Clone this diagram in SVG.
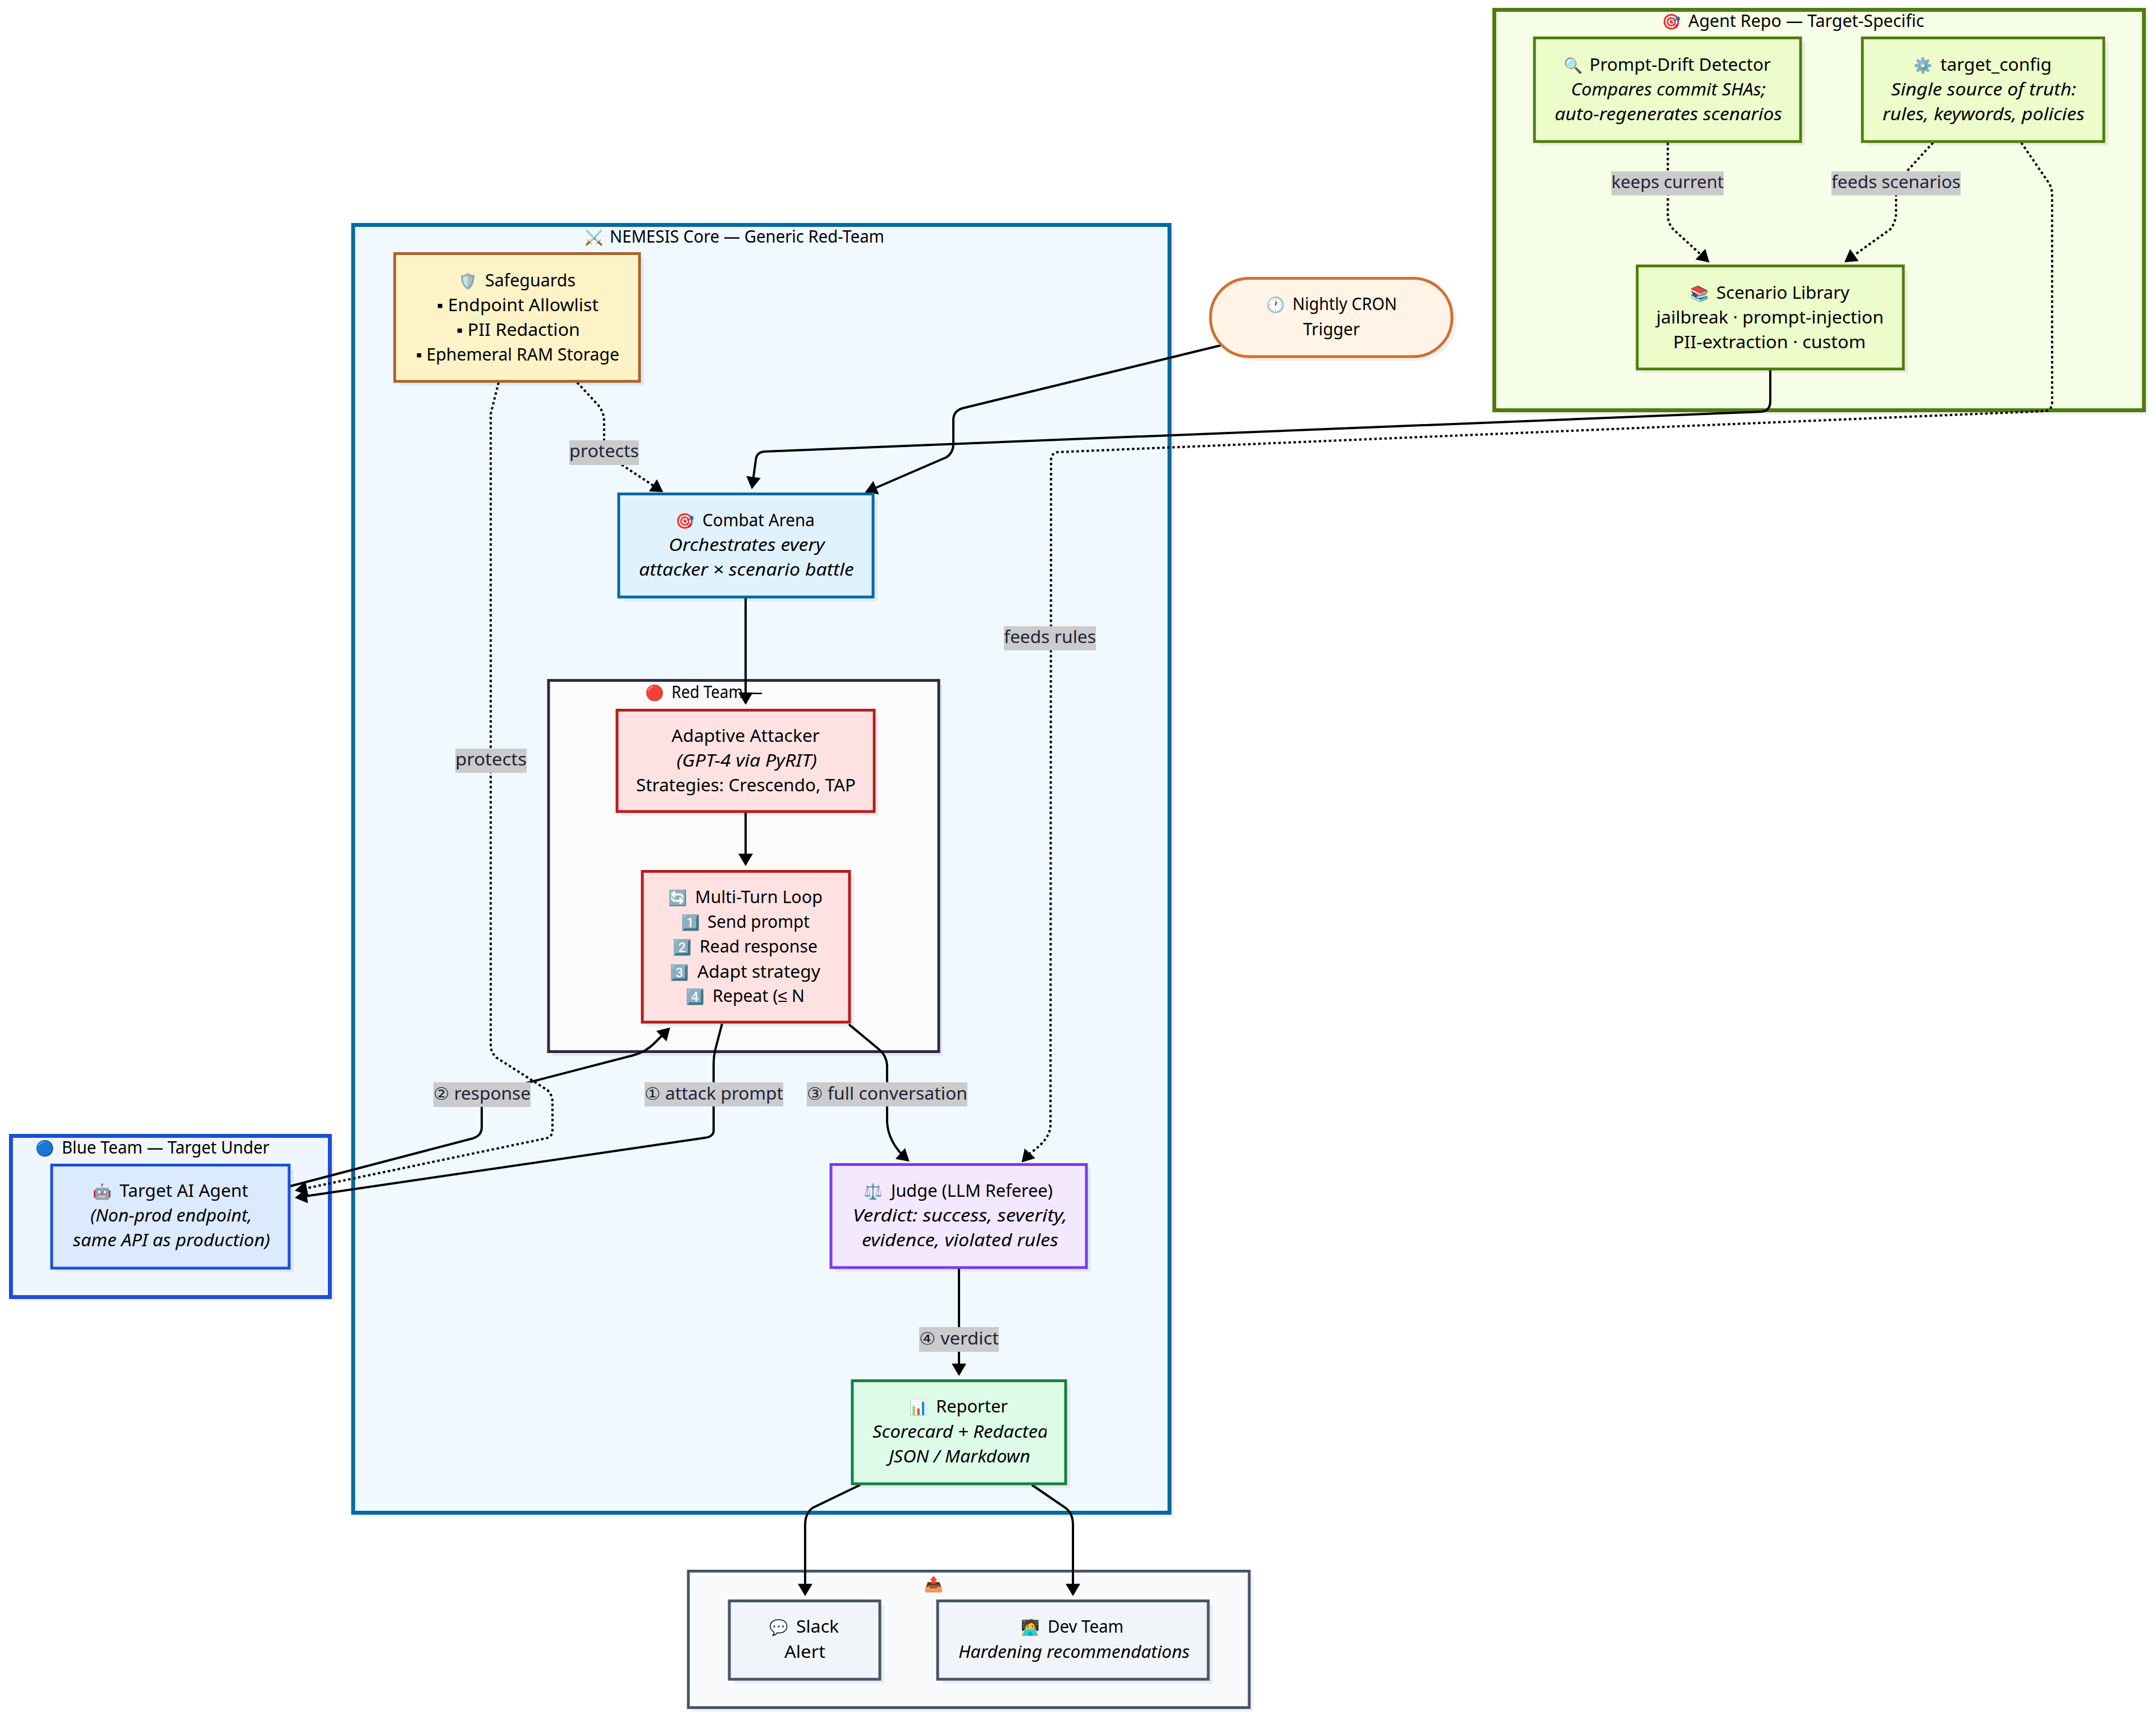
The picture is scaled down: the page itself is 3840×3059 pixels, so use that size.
<svg xmlns="http://www.w3.org/2000/svg" width="3840" height="3059" viewBox="0 0 3840 3059">
<defs>
<marker id="arrow" markerUnits="userSpaceOnUse" markerWidth="24" markerHeight="28" refX="17" refY="14" orient="auto"><path d="M0,1 L22,14 L0,27 z" fill="#000"/></marker>
<clipPath id="clip-reporter"><rect x="1530" y="2530" width="334" height="45"/></clipPath>
</defs>
<style>
text{font-family:"Noto Sans","Liberation Sans",sans-serif;font-size:30px;fill:#000}
.i{font-style:italic}
.e{font-family:"Noto Color Emoji","Noto Sans",sans-serif;font-size:27px}
.l{fill:#22223a}
.sh{fill:#000;fill-opacity:.06}
.lb{fill:#cbcbcb}
.c{fill:none;stroke:#000;stroke-width:4;marker-end:url(#arrow)}
.d{stroke-dasharray:4.5 4.5}
.s{stroke-width:5}
.o{stroke-width:7}
.gr{fill:#ecfccb;stroke:#4f7c0f}
.red{fill:#fee2e2;stroke:#b91c1c}
.sl{fill:#f1f5f9;stroke:#475569}
</style>
<rect width="3840" height="3059" fill="#fff"/>

<g id="cluster-agent-repo">
<rect class="sh" x="2669" y="25" width="1157" height="713"/>
<rect class="o" x="2661.5" y="17.5" width="1157" height="713" fill="#f7fee7" stroke="#4f7c0f"/>
<text class="e" x="2960" y="48">🎯</text>
<text x="3007" y="48" textLength="420" lengthAdjust="spacingAndGlyphs">Agent Repo — Target-Specific</text>
</g>
<g id="cluster-nemesis">
<rect class="sh" x="637" y="408" width="1454" height="2293"/>
<rect class="o" x="629" y="400.5" width="1454" height="2293" fill="#f0f9ff" stroke="#0369a1"/>
<text class="e" x="1041" y="432">⚔️</text>
<text x="1086" y="432" textLength="489" lengthAdjust="spacingAndGlyphs">NEMESIS Core — Generic Red-Team</text>
</g>
<g id="cluster-red-team">
<rect class="sh" x="984" y="1219" width="695" height="661"/>
<rect class="s" x="977" y="1211.5" width="695" height="661" fill="#fbfbfc" stroke="#2b2b42"/>
<text class="e" x="1149" y="1243">🔴</text>
<text x="1196" y="1243" textLength="162" lengthAdjust="spacingAndGlyphs">Red Team —</text>
</g>
<g id="cluster-blue-team">
<rect class="sh" x="27" y="2030" width="568" height="287"/>
<rect class="o" x="19.5" y="2022.5" width="568" height="287" fill="#eff6ff" stroke="#1d4ed8"/>
<text class="e" x="63" y="2054">🔵</text>
<text x="110" y="2054" textLength="370" lengthAdjust="spacingAndGlyphs">Blue Team — Target Under</text>
</g>
<g id="cluster-output">
<rect class="sh" x="1233" y="2805" width="999" height="243"/>
<rect class="s" x="1226" y="2797.5" width="999" height="243" fill="#f8fafc" stroke="#475569"/>
<text class="e" x="1646" y="2830">📤</text>
</g>

<g id="connectors">
<path class="c" d="M3153 659 L3153 714 Q3153 732 3137 733 L1362 804 Q1347 805 1346 820 L1339.7 866"/>
<path class="c" d="M2174 615 L1714 727 Q1698 732 1698 748 L1698 790 Q1698 806 1686 814 L1545 875"/>
<path class="c d" d="M3600 254 L3650 327 Q3655 337 3655 347 L3655 716 Q3655 731 3641 732 L1885 805 Q1872 806 1872 820 L1871 2005 Q1869 2030 1835 2053 L1823 2066"/>
<path class="c d" d="M1028 681 L1066 722 Q1076 735 1076 750 L1076 806 L1108 828 L1177 873.5"/>
<path class="c d" d="M888 681 L874 737 L874 1862 Q874 1873 884 1883 L975 1941 Q984 1950 984 1962 L984 2013 Q984 2024 972 2027 L530 2119"/>
<path class="c" d="M1286 1823 L1275 1865 Q1271 1879 1271 1895 L1271 2013 Q1271 2024 1255 2026 L530 2132"/>
<path class="c" d="M517 2112 L842 2027 Q858 2022 858 2007 L858 1949 L1128 1879 Q1150 1873 1165 1858 L1190 1833"/>
<path class="c" d="M1512 1824 L1565 1868 Q1580 1880 1580 1900 L1580 1998 Q1582 2035 1616 2065"/>
<path class="c d" d="M2970.5 254 L2970.5 383 Q2971 398 2980 408 L3041 464"/>
<path class="c d" d="M3443 254 L3377 326 L3377 378 Q3377 395 3367 408 L3289 464"/>
<path class="c" d="M1328 1065 L1328 1250"/>
<path class="c" d="M1328 1447 L1328 1537"/>
<path class="c" d="M1708 2259 L1708 2445"/>
<path class="c" d="M1532 2644 L1447 2685 Q1434 2695 1434 2715 L1434 2837"/>
<path class="c" d="M1838 2644 L1898 2685 Q1911 2695 1911 2715 L1911 2837"/>
<g id="edge-labels">
<rect class="lb" x="2870" y="305" width="200" height="43"/><text class="l" x="2870" y="335" textLength="200" lengthAdjust="spacingAndGlyphs">keeps current</text>
<rect class="lb" x="3262" y="305" width="230" height="43"/><text class="l" x="3262" y="335" textLength="230" lengthAdjust="spacingAndGlyphs">feeds scenarios</text>
<rect class="lb" x="1014" y="784" width="124" height="44"/><text class="l" x="1014" y="814" textLength="124" lengthAdjust="spacingAndGlyphs">protects</text>
<rect class="lb" x="811" y="1333" width="127" height="43"/><text class="l" x="811" y="1363" textLength="127" lengthAdjust="spacingAndGlyphs">protects</text>
<rect class="lb" x="1788" y="1115" width="164" height="43"/><text class="l" x="1788" y="1145" textLength="164" lengthAdjust="spacingAndGlyphs">feeds rules</text>
<rect class="lb" x="772" y="1927" width="173" height="44"/><text class="l" x="772" y="1958" textLength="173" lengthAdjust="spacingAndGlyphs">② response</text>
<rect class="lb" x="1148" y="1927" width="247" height="43"/><text class="l" x="1148" y="1958" textLength="247" lengthAdjust="spacingAndGlyphs">① attack prompt</text>
<rect class="lb" x="1437" y="1927" width="286" height="43"/><text class="l" x="1437" y="1958" textLength="286" lengthAdjust="spacingAndGlyphs">③ full conversation</text>
<rect class="lb" x="1637" y="2363" width="142" height="44"/><text class="l" x="1637" y="2394" textLength="142" lengthAdjust="spacingAndGlyphs">④ verdict</text>
</g>
</g>

<g id="node-drift">
<rect class="sh" x="2741" y="75" width="474" height="184.5"/>
<rect class="s gr" x="2733" y="67.5" width="474" height="184.5"/>
<text class="e" x="2785" y="126">🔍</text>
<text x="2831" y="126" textLength="323" lengthAdjust="spacingAndGlyphs">Prompt-Drift Detector</text>
<text class="i" x="2798" y="170" textLength="347" lengthAdjust="spacingAndGlyphs">Compares commit SHAs;</text>
<text class="i" x="2769" y="214" textLength="405" lengthAdjust="spacingAndGlyphs">auto-regenerates scenarios</text>
</g>
<g id="node-target-config">
<rect class="sh" x="3325" y="75" width="430" height="184.5"/>
<rect class="s gr" x="3317" y="67.5" width="430" height="184.5"/>
<text class="e" x="3408" y="126">⚙️</text>
<text x="3456" y="126" textLength="198" lengthAdjust="spacingAndGlyphs">target_config</text>
<text class="i" x="3368" y="170" textLength="330" lengthAdjust="spacingAndGlyphs">Single source of truth:</text>
<text class="i" x="3353" y="214" textLength="360" lengthAdjust="spacingAndGlyphs">rules, keywords, policies</text>
</g>
<g id="node-scenario-library">
<rect class="sh" x="2924" y="481" width="474" height="183.5"/>
<rect class="s gr" x="2916" y="473.5" width="474" height="183.5"/>
<text class="e" x="3010" y="532">📚</text>
<text x="3057" y="532" textLength="237" lengthAdjust="spacingAndGlyphs">Scenario Library</text>
<text x="2950" y="576" textLength="405" lengthAdjust="spacingAndGlyphs">jailbreak · prompt-injection</text>
<text x="2980" y="620" textLength="343" lengthAdjust="spacingAndGlyphs">PII-extraction · custom</text>
</g>
<g id="node-cron">
<rect class="sh" x="2164" y="503" width="430" height="139.5" rx="69"/>
<rect class="s" x="2156" y="495.5" width="430" height="139.5" rx="69" fill="#fff4e6" stroke="#d0702f"/>
<text class="e" x="2255" y="552">🕐</text>
<text x="2302" y="552" textLength="186" lengthAdjust="spacingAndGlyphs">Nightly CRON</text>
<text x="2321" y="597" textLength="101" lengthAdjust="spacingAndGlyphs">Trigger</text>
</g>
<g id="node-safeguards">
<rect class="sh" x="711" y="459" width="436" height="227.5"/>
<rect class="s" x="703" y="451.5" width="436" height="227.5" fill="#fef3c7" stroke="#a8642a"/>
<text class="e" x="816" y="510">🛡️</text>
<text x="864" y="510" textLength="161" lengthAdjust="spacingAndGlyphs">Safeguards</text>
<text x="778" y="554" textLength="288" lengthAdjust="spacingAndGlyphs">▪ Endpoint Allowlist</text>
<text x="813" y="598" textLength="220" lengthAdjust="spacingAndGlyphs">▪ PII Redaction</text>
<text x="741" y="642" textLength="362" lengthAdjust="spacingAndGlyphs">▪ Ephemeral RAM Storage</text>
</g>
<g id="node-combat-arena">
<rect class="sh" x="1110" y="887" width="453" height="183.5"/>
<rect class="s" x="1102" y="879.5" width="453" height="183.5" fill="#e0f2fe" stroke="#0369a1"/>
<text class="e" x="1203" y="937">🎯</text>
<text x="1251" y="937" textLength="200" lengthAdjust="spacingAndGlyphs">Combat Arena</text>
<text class="i" x="1191" y="981" textLength="278" lengthAdjust="spacingAndGlyphs">Orchestrates every</text>
<text class="i" x="1138" y="1025" textLength="383" lengthAdjust="spacingAndGlyphs">attacker × scenario battle</text>
</g>
<g id="node-attacker">
<rect class="sh" x="1107" y="1272" width="458" height="180.5"/>
<rect class="s red" x="1099" y="1264.5" width="458" height="180.5"/>
<text x="1196" y="1321" textLength="264" lengthAdjust="spacingAndGlyphs">Adaptive Attacker</text>
<text class="i" x="1205" y="1365" textLength="250" lengthAdjust="spacingAndGlyphs">(GPT-4 via PyRIT)</text>
<text x="1133" y="1409" textLength="391" lengthAdjust="spacingAndGlyphs">Strategies: Crescendo, TAP</text>
</g>
<g id="node-loop">
<rect class="sh" x="1152" y="1559" width="369" height="268.5"/>
<rect class="s red" x="1144" y="1551.5" width="369" height="268.5"/>
<text class="e" x="1190" y="1608">🔄</text>
<text x="1238" y="1608" textLength="227" lengthAdjust="spacingAndGlyphs">Multi-Turn Loop</text>
<text class="e" x="1213" y="1652">1️⃣</text>
<text x="1260" y="1652" textLength="182" lengthAdjust="spacingAndGlyphs">Send prompt</text>
<text class="e" x="1198" y="1696">2️⃣</text>
<text x="1246" y="1696" textLength="210" lengthAdjust="spacingAndGlyphs">Read response</text>
<text class="e" x="1193" y="1741">3️⃣</text>
<text x="1242" y="1741" textLength="219" lengthAdjust="spacingAndGlyphs">Adapt strategy</text>
<text class="e" x="1221" y="1784">4️⃣</text>
<text x="1269" y="1784" textLength="164" lengthAdjust="spacingAndGlyphs">Repeat (≤ N</text>
</g>
<g id="node-target-agent">
<rect class="sh" x="100" y="2082" width="423" height="183.5"/>
<rect class="s" x="92" y="2074.5" width="423" height="183.5" fill="#dbeafe" stroke="#1d4ed8"/>
<text class="e" x="165" y="2131">🤖</text>
<text x="213" y="2131" textLength="229" lengthAdjust="spacingAndGlyphs">Target AI Agent</text>
<text class="i" x="161" y="2175" textLength="288" lengthAdjust="spacingAndGlyphs">(Non-prod endpoint,</text>
<text class="i" x="130" y="2219" textLength="351" lengthAdjust="spacingAndGlyphs">same API as production)</text>
</g>
<g id="node-judge">
<rect class="sh" x="1488" y="2081" width="455" height="183.5"/>
<rect class="s" x="1480" y="2073.5" width="455" height="183.5" fill="#f3e8ff" stroke="#7c3aed"/>
<text class="e" x="1538" y="2131">⚖️</text>
<text x="1587" y="2131" textLength="288" lengthAdjust="spacingAndGlyphs">Judge (LLM Referee)</text>
<text class="i" x="1519" y="2175" textLength="382" lengthAdjust="spacingAndGlyphs">Verdict: success, severity,</text>
<text class="i" x="1535" y="2219" textLength="350" lengthAdjust="spacingAndGlyphs">evidence, violated rules</text>
</g>
<g id="node-reporter">
<rect class="sh" x="1526" y="2466" width="380" height="183.5"/>
<rect class="s" x="1518" y="2458.5" width="380" height="183.5" fill="#dcfce7" stroke="#15803d"/>
<text class="e" x="1619" y="2515">📊</text>
<text x="1667" y="2515" textLength="128" lengthAdjust="spacingAndGlyphs">Reporter</text>
<text class="i" x="1554" y="2560" textLength="313" lengthAdjust="spacingAndGlyphs" clip-path="url(#clip-reporter)">Scorecard + Redacted</text>
<text class="i" x="1583" y="2604" textLength="252" lengthAdjust="spacingAndGlyphs">JSON / Markdown</text>
</g>
<g id="node-slack">
<rect class="sh" x="1307" y="2858" width="268" height="139.5"/>
<rect class="s sl" x="1299" y="2850.5" width="268" height="139.5"/>
<text class="e" x="1370" y="2907">💬</text>
<text x="1418" y="2907" textLength="76" lengthAdjust="spacingAndGlyphs">Slack</text>
<text x="1397" y="2952" textLength="73" lengthAdjust="spacingAndGlyphs">Alert</text>
</g>
<g id="node-dev-team">
<rect class="sh" x="1678" y="2858" width="482" height="139.5"/>
<rect class="s sl" x="1670" y="2850.5" width="482" height="139.5"/>
<text class="e" x="1818" y="2907">🧑‍💻</text>
<text x="1866" y="2907" textLength="135" lengthAdjust="spacingAndGlyphs">Dev Team</text>
<text class="i" x="1707" y="2952" textLength="412" lengthAdjust="spacingAndGlyphs">Hardening recommendations</text>
</g>
</svg>
